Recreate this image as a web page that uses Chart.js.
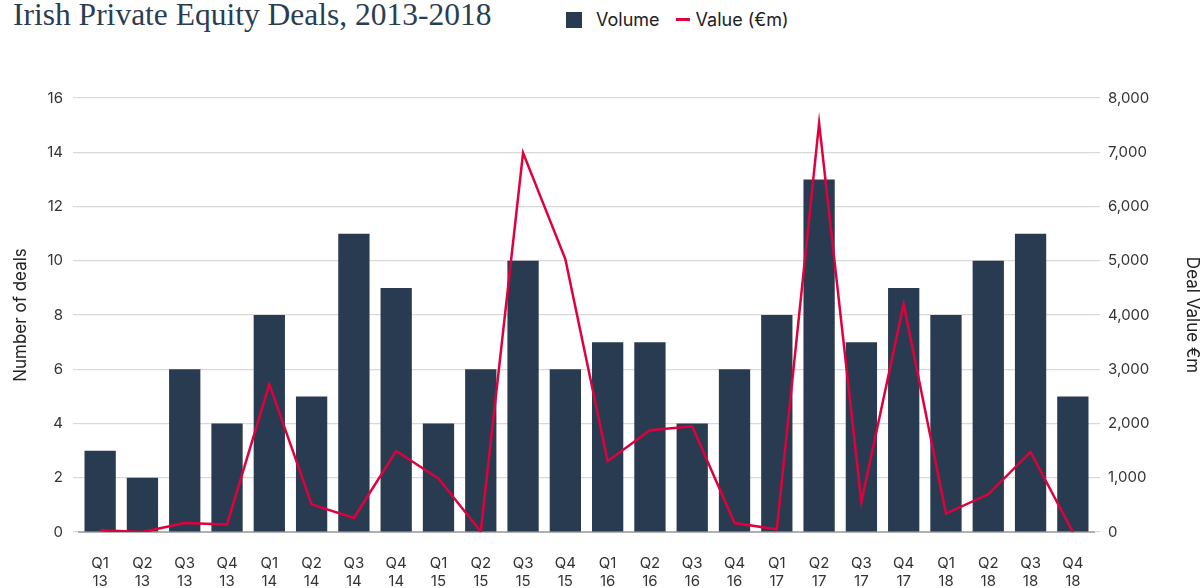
<!DOCTYPE html>
<html>
<head>
<meta charset="utf-8">
<script src="https://cdn.jsdelivr.net/npm/chart.js@4/dist/chart.umd.min.js"></script>
<style>
  body { margin: 0; background: #fff; }
  #wrap { position: relative; width: 1202px; height: 588px; }
  #title {
    position: absolute; left: 13px; top: -3px;
    font-family: "Liberation Serif", "DejaVu Serif", serif;
    font-size: 31.5px; color: #2b3d51; white-space: nowrap;
  }
  #legend {
    position: absolute; left: 566px; top: 9px;
    font-family: Inter, "Noto Sans", sans-serif; font-size: 18px; color: #222;
    display: flex; align-items: center;
  }
  .sw { display: inline-block; width: 16px; height: 16px; background: #293b50; margin-right: 14px; }
  .ln { display: inline-block; width: 14px; height: 3px; background: #e0003c; margin: 0 6px 0 16px; }
  canvas { position: absolute; left: 0; top: 0; }
</style>
</head>
<body>
<div id="wrap">
  <div id="title">Irish Private Equity Deals, 2013-2018</div>
  <div id="legend"><span class="sw"></span>Volume<span class="ln"></span>Value (€m)</div>
  <canvas id="lineChart" width="1202" height="588"></canvas>
</div>
<script>
// quarters and years for the x axis
const quarters = ['Q1','Q2','Q3','Q4','Q1','Q2','Q3','Q4','Q1','Q2','Q3','Q4',
                  'Q1','Q2','Q3','Q4','Q1','Q2','Q3','Q4','Q1','Q2','Q3','Q4'];
const years = ['13','13','13','13','14','14','14','14','15','15','15','15',
               '16','16','16','16','17','17','17','17','18','18','18','18'];

// number of deals (bars, left axis)
const volume = [3, 2, 6, 4, 8, 5, 11, 9, 4, 6, 10, 6, 7, 7, 4, 6, 8, 13, 7, 9, 8, 10, 11, 5];

// deal value in €m (line, right axis)
const valueEm = [30, 0, 165, 140, 2725, 510, 260, 1495, 985, 10, 6990, 5030,
                 1305, 1875, 1950, 165, 50, 7535, 555, 4200, 340, 695, 1475, 0];

const labels = quarters.map((q, i) => [q, years[i]]);

const tickFont = { family: 'Inter, "Noto Sans", sans-serif', size: 15 };

new Chart(document.getElementById('lineChart'), {
    data: {
        labels: labels,
        datasets: [
            {
                type: 'line',
                label: 'Value (€m)',
                data: valueEm,
                yAxisID: 'y1',
                borderColor: '#e0003c',
                backgroundColor: '#e0003c',
                borderWidth: 2.5,
                pointRadius: 0,
                tension: 0,
                order: 0
            },
            {
                type: 'bar',
                label: 'Volume',
                data: volume,
                yAxisID: 'y',
                backgroundColor: '#293b50',
                categoryPercentage: 0.74,
                barPercentage: 1,
                order: 1
            }
        ]
    },
    options: {
        responsive: false,
        animation: false,
        layout: { padding: { top: 98, bottom: 0, left: 0, right: 0 } },
        plugins: {
            legend: { display: false },
            tooltip: { enabled: false }
        },
        scales: {
            x: {
                grid: { display: false, drawTicks: false },
                border: { color: '#b0b0b0', width: 2 },
                ticks: {
                    color: '#333', font: { ...tickFont, lineHeight: 1.2 },
                    padding: 22, maxRotation: 0, autoSkip: false
                },
                afterFit: (axis) => { axis.height = 56; }
            },
            y: {
                position: 'left',
                min: 0, max: 16,
                ticks: { stepSize: 2, color: '#333', font: tickFont, padding: 10 },
                grid: { color: '#d9d9d9', tickLength: 6, lineWidth: 1.2 },
                border: { display: false },
                title: {
                    display: true, text: 'Number of deals', color: '#222',
                    font: { family: 'Inter, "Noto Sans", sans-serif', size: 17 },
                    padding: { top: 11, bottom: 0 }
                },
                afterFit: (axis) => { axis.width = 79; }
            },
            y1: {
                position: 'right',
                min: 0, max: 8000,
                ticks: {
                    stepSize: 1000, color: '#333', font: tickFont, padding: 8,
                    callback: (v) => v.toLocaleString('en-US')
                },
                grid: { drawOnChartArea: false, color: '#d9d9d9', tickLength: 6, lineWidth: 1.2 },
                border: { display: false },
                title: {
                    display: true, text: 'Deal Value €m', color: '#222',
                    font: { family: 'Inter, "Noto Sans", sans-serif', size: 17 },
                    padding: { top: 0, bottom: 2 }
                },
                afterFit: (axis) => { axis.width = 108; }
            }
        }
    }
});
</script>
</body>
</html>
